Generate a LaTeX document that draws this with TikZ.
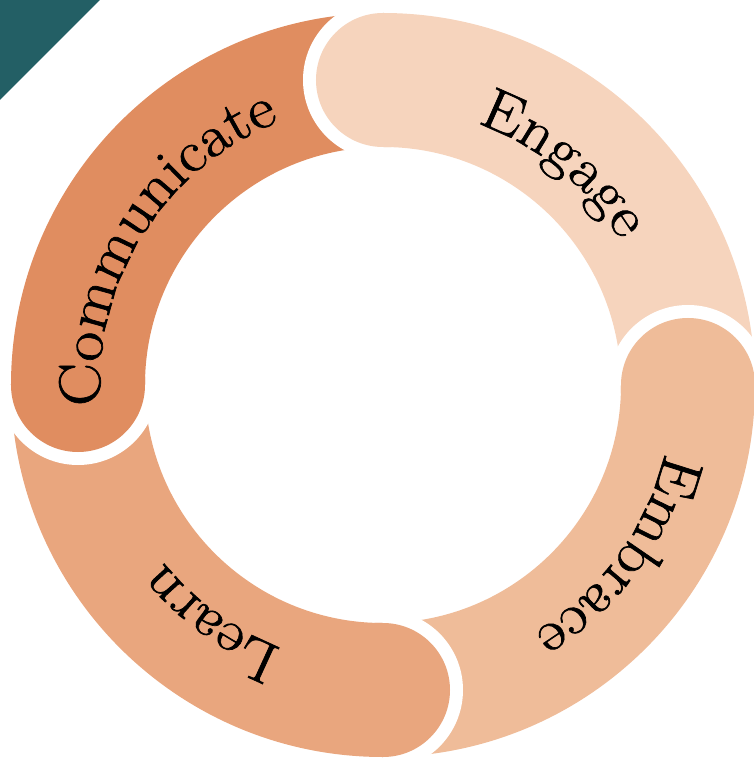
\documentclass[tikz,border=0pt]{standalone}
\usepackage{fontspec}
\setmainfont{Latin Modern Roman}[FakeStretch=1.1,FakeBold=1.2]
\usetikzlibrary{decorations.text}
\definecolor{CornerTeal}{HTML}{235F65}
\definecolor{CommunicateOrange}{HTML}{E08D60}
\definecolor{EngageSand}{HTML}{F6D4BD}
\definecolor{EmbracePeach}{HTML}{EFBC99}
\definecolor{LearnApricot}{HTML}{E9A67E}
\newcommand{\ringfont}{\fontsize{44}{50}\selectfont}

\begin{document}
\begin{tikzpicture}[x=0.75pt,y=0.75pt,
    gap/.style={draw=white,line width=19.5pt},
    ringtext/.style={decorate,decoration={text along path,text align=center,text={|\ringfont|#1}}}]
       \useasboundingbox (-383,-375) rectangle (370,385);
       \fill[CornerTeal] (-383,385) -- (-283,385) -- (-383,285) -- cycle;
       \fill[CommunicateOrange] (180:238) arc[start angle=180,end angle=90,radius=238] -- (90:372) arc[start angle=90,end angle=180,radius=372] -- cycle;
       \fill[EngageSand] (90:238) arc[start angle=90,end angle=0,radius=238] -- (0:372) arc[start angle=0,end angle=90,radius=372] -- cycle;
       \fill[EmbracePeach] (0:238) arc[start angle=0,end angle=-90,radius=238] -- (-90:372) arc[start angle=-90,end angle=0,radius=372] -- cycle;
       \fill[LearnApricot] (-90:238) arc[start angle=-90,end angle=-180,radius=238] -- (-180:372) arc[start angle=-180,end angle=-90,radius=372] -- cycle;
       \draw[gap] (90:372) arc[start angle=90,end angle=270,radius=67];
       \fill[EngageSand] (90:372) arc[start angle=90,end angle=270,radius=67] arc[start angle=90,end angle=88,radius=238] -- (88:372) arc[start angle=88,end angle=90,radius=372] -- cycle;
       \draw[gap] (0:372) arc[start angle=0,end angle=180,radius=67];
       \fill[EmbracePeach] (0:372) arc[start angle=0,end angle=180,radius=67] arc[start angle=0,end angle=-2,radius=238] -- (-2:372) arc[start angle=-2,end angle=0,radius=372] -- cycle;
       \draw[gap] (-90:372) arc[start angle=-90,end angle=90,radius=67];
       \fill[LearnApricot] (-90:372) arc[start angle=-90,end angle=90,radius=67] arc[start angle=-90,end angle=-92,radius=238] -- (-92:372) arc[start angle=-92,end angle=-90,radius=372] -- cycle;
       \draw[gap] (180:372) arc[start angle=180,end angle=360,radius=67];
       \fill[CommunicateOrange] (180:372) arc[start angle=180,end angle=360,radius=67] arc[start angle=180,end angle=178,radius=238] -- (178:372) arc[start angle=178,end angle=180,radius=372] -- cycle;
       \path[ringtext=Engage] (110.75:278) arc[start angle=110.75,end angle=-9.25,radius=278];
       \path[ringtext=Embrace] (24:290) arc[start angle=24,end angle=-96,radius=290];
       \path[ringtext=Learn] (-66:282) arc[start angle=-66,end angle=-186,radius=282];
       \path[ringtext=Communicate] (207.9:283) arc[start angle=207.9,end angle=87.9,radius=283];
     \end{tikzpicture}
\end{document}
